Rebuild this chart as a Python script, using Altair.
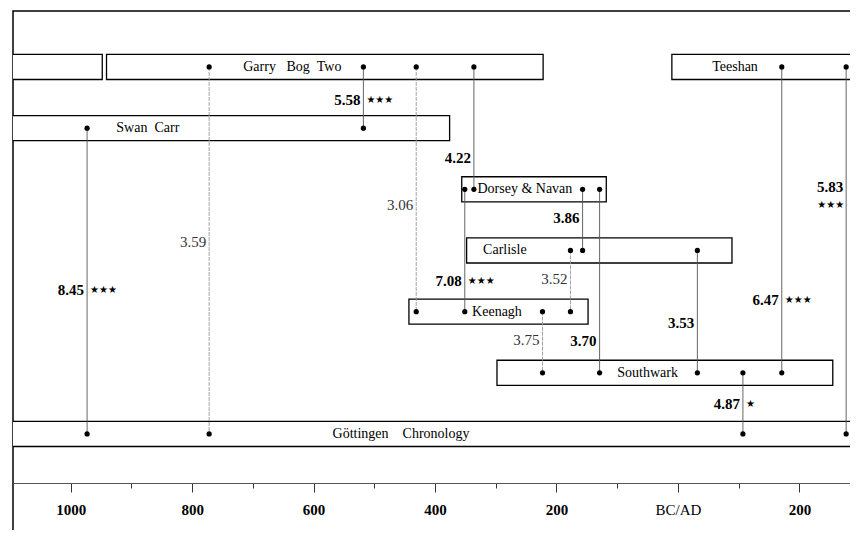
import altair as alt
import pandas as pd

# ---- chronology boxes (years: negative = BC) ----
box_name = ["", "Garry\u00a0\u00a0\u00a0Bog\u00a0\u00a0Two", "Teeshan", "Swan\u00a0\u00a0Carr",
            "Dorsey & Navan", "Carlisle", "Keenagh", "Southwark",
            "Göttingen\u00a0\u00a0\u00a0\u00a0Chronology"]
box_row = [0, 0, 0, 1, 2, 3, 4, 5, 6]
box_start = [-1120, -941, -10, -1120, -356, -348, -443, -298, -1120]
box_end = [-948, -222, 330, -376, -118, 89, -148, 255, 330]
box_label_year = [None, -635, 94, -873, -252, -285, -298, -50, -456]

# ---- dots (crossmatch points) ----
dot_row = [0, 0, 0, 0, 0, 0,
           1, 1,
           2, 2, 2, 2,
           3, 3, 3,
           4, 4, 4, 4,
           5, 5, 5, 5, 5,
           6, 6, 6, 6]
dot_year = [-772, -518, -431, -336, 171, 277,
            -973, -518,
            -351, -336, -157, -129,
            -177, -157, 32,
            -431, -351, -223, -177,
            -223, -129, 32, 107, 171,
            -973, -772, 107, 277]

# ---- links between chronologies ----
link_year = [-973, -772, -518, -431, -336, -351, -157, -177, -223, -129, 32, 171, 107, 277]
link_from = [1, 0, 0, 0, 0, 2, 2, 3, 4, 2, 3, 0, 5, 0]
link_to = [6, 6, 1, 4, 2, 4, 3, 4, 5, 5, 5, 5, 6, 6]
link_t = ["8.45", "3.59", "5.58", "3.06", "4.22", "7.08", "3.86", "3.52", "3.75",
          "3.70", "3.53", "6.47", "4.87", "5.83"]
link_bold = [True, False, True, False, True, True, True, False, False,
             True, True, True, True, True]
link_stars = ["★★★", "", "★★★", "", "", "★★★", "", "", "", "", "", "★★★", "★", "★★★"]
link_star_side = ["side", "", "side", "", "", "side", "", "", "", "", "", "side", "side", "below"]
link_label_row = [3.645, 2.86, 0.54, 2.255, 1.49, 3.5, 2.47, 3.465, 4.46,
                  4.48, 4.18, 3.81, 5.51, 1.96]

# ---- axis ----
tick_years = list(range(-1000, 201, 100))

boxes = pd.DataFrame({"name": box_name, "row": box_row, "start": box_start,
                      "end": box_end, "lx": box_label_year})
boxes["top"] = boxes["row"] - 0.205
boxes["bot"] = boxes["row"] + 0.205
dots = pd.DataFrame({"row": dot_row, "year": dot_year})
links = pd.DataFrame({"year": link_year, "r1": link_from, "r2": link_to, "t": link_t,
                      "bold": link_bold, "stars": link_stars, "side": link_star_side,
                      "lrow": link_label_row})
links["srow"] = links["lrow"] + 0.29

SERIF = "Liberation Serif"
xs = alt.Scale(domain=[-1095, 285], nice=False, zero=False)
ys = alt.Scale(domain=[-0.915, 7.75], nice=False, zero=False, reverse=True)
xaxis = alt.Axis(
    values=tick_years,
    labelExpr="datum.value % 200 == 0 ? (datum.value == 0 ? 'BC/AD' : '' + abs(datum.value)) : ''",
    tickSize={"condition": {"test": "datum.value % 200 == 0", "value": 9}, "value": 5},
    labelFontWeight={"condition": {"test": "datum.value == 0", "value": "normal"}, "value": "bold"},
    labelFont=SERIF, labelFontSize=15, labelColor="black", labelPadding=10,
    tickColor="#333", domainColor="#555", grid=False, title=None, labelFlush=False,
    offset=-58,
)


def X(f):
    return alt.X(f, type="quantitative", scale=xs, axis=xaxis)


def Y(f):
    return alt.Y(f, type="quantitative", scale=ys, axis=None)


rects = alt.Chart(boxes).mark_rect(fill="white", stroke="black", strokeWidth=1.3, clip=True).encode(
    x=X("start"), x2="end", y=Y("top"), y2="bot")

box_text = alt.Chart(boxes).transform_filter("datum.lx != null").mark_text(
    font=SERIF, fontSize=14, color="black", baseline="middle").encode(
    x=X("lx"), y=Y("row"), text="name:N")

rules_bold = alt.Chart(links).transform_filter("datum.bold").mark_rule(
    color="#555", strokeWidth=0.9).encode(x=X("year"), y=Y("r1"), y2="r2")
rules_light = alt.Chart(links).transform_filter("!datum.bold").mark_rule(
    color="#999", strokeWidth=0.9, strokeDash=[4, 1]).encode(x=X("year"), y=Y("r1"), y2="r2")

pts = alt.Chart(dots).mark_circle(color="black", opacity=1, size=27, clip=True).encode(
    x=X("year"), y=Y("row"))

lab_bold = alt.Chart(links).transform_filter("datum.bold").mark_text(
    font=SERIF, fontSize=15, fontWeight="bold", align="right", dx=-3, baseline="middle",
    color="black").encode(x=X("year"), y=Y("lrow"), text="t:N")
lab_light = alt.Chart(links).transform_filter("!datum.bold").mark_text(
    font=SERIF, fontSize=15, align="right", dx=-3, baseline="middle",
    color="#333").encode(x=X("year"), y=Y("lrow"), text="t:N")

stars_side = alt.Chart(links).transform_filter("datum.side == 'side'").mark_text(
    font="DejaVu Sans", fontSize=10, align="left", dx=3, baseline="middle",
    color="black").encode(x=X("year"), y=Y("lrow"), text="stars:N")
stars_below = alt.Chart(links).transform_filter("datum.side == 'below'").mark_text(
    font="DejaVu Sans", fontSize=10, align="right", dx=-2, baseline="middle",
    color="black").encode(x=X("year"), y=Y("srow"), text="stars:N")

chart = alt.layer(rects, rules_light, rules_bold, pts, box_text, lab_bold, lab_light,
                  stars_side, stars_below).properties(
    width=838, height=530,
    padding={"left": 5, "top": 3, "right": -1, "bottom": -11},
    background="white",
).configure_view(stroke="black", strokeWidth=1.5)

chart.save("out.html", embed_options={"renderer": "svg", "actions": False})
